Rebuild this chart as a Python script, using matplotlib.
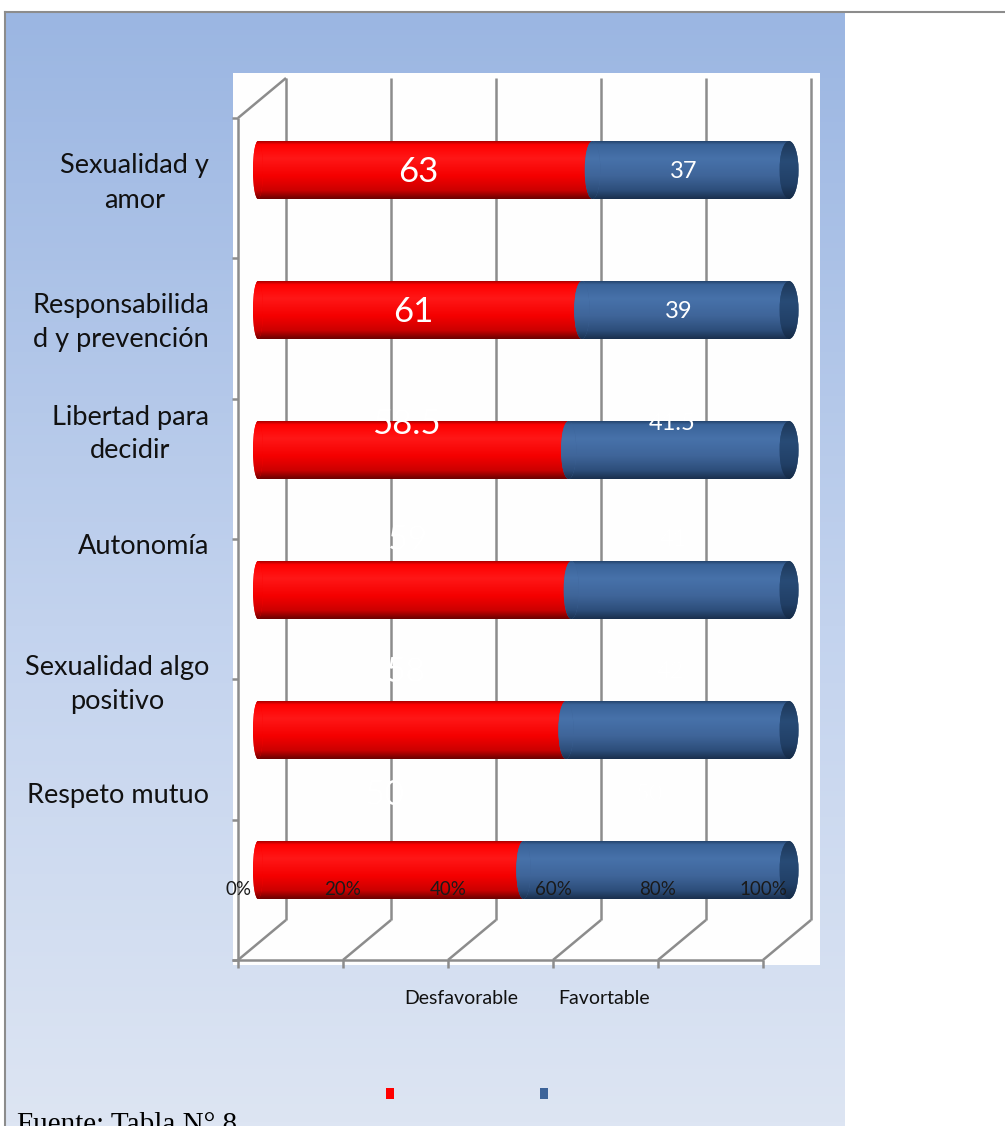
import numpy as np
import matplotlib.pyplot as plt
from matplotlib.colors import LinearSegmentedColormap
from matplotlib.patches import Ellipse, Rectangle

# datos
categorias = ['Sexualidad y\namor', 'Responsabilida\nd y prevención', 'Libertad para\ndecidir',
              'Autonomía', 'Sexualidad algo\npositivo', 'Respeto mutuo']
desfavorable = [63, 61, 58.5, 59, 58, 50]
favorable = [37, 39, 41.5, 41, 42, 50]
ticks = [0, 20, 40, 60, 80, 100]
series = ['Desfavorable', 'Favortable']

# posiciones (pixeles de la imagen)
label_y_px = [183, 323, 434, 546, 684, 796]
desplaz_px = [2, 2, -26, -50, -58, -75]

W, H = 1005, 1126
fig = plt.figure(figsize=(W / 100, H / 100), dpi=100)
plt.rcParams['font.family'] = ['Lato', 'DejaVu Sans']


def caja(x0, y0, x1, y1):
    return [x0 / W, 1 - y1 / H, (x1 - x0) / W, (y1 - y0) / H]


def cmap(nombre, pares):
    return LinearSegmentedColormap.from_list(nombre, pares)


grad = np.linspace(0, 1, 256).reshape(-1, 1)

# fondo con degradado
bg = fig.add_axes([0, 0, 1, 1], zorder=0)
fondo = cmap('fondo', [(0, '#9bb6e2'), (0.55, '#c3d3ee'), (1, '#dde5f3')])
bg.imshow(grad, cmap=fondo, extent=[6, 845, H, 13], aspect='auto')
bg.plot([5, W], [12, 12], color='#8c8c8c', lw=1.5)
bg.plot([5, 5], [12, H], color='#8c8c8c', lw=1.5)
bg.add_patch(Rectangle((233, 73), 587, 892, facecolor='#fefefe', edgecolor='none'))
bg.set_xlim(0, W)
bg.set_ylim(H, 0)
bg.axis('off')

# marco 3D (plano frontal + pared del fondo)
fr = fig.add_axes(caja(238, 118, 763, 960), zorder=1)
fr.set_xlim(0, 100)
fr.set_ylim(6, 0)
fr.axis('off')
gris = '#8c8c8c'
dx = 48 * 100 / 525
dy = 40 * 6 / 842
kw = dict(color=gris, lw=1.8, clip_on=False, solid_capstyle='butt')
for t in ticks:
    fr.plot([t + dx, t + dx], [-dy, 6 - dy], **kw)
    fr.plot([t, t + dx], [6, 6 - dy], **kw)
    fr.plot([t, t], [6, 6 + 8 * 6 / 842], **kw)
fr.plot([0, dx], [0, -dy], **kw)
fr.plot([0, 0], [0, 6], **kw)
fr.plot([-6 * 100 / 525, 100], [6, 6], **kw)
for k in range(len(categorias) + 1):
    fr.plot([-6 * 100 / 525, 0], [k, k], **kw)

# barras cilindricas
ax = fig.add_axes(caja(233, 73, 820, 965), zorder=2)
esc = 5.31
xlim = (-25 / esc, 562 / esc)
ylim = (795 / 140, -97 / 140)
h = 58 / 140

rojo = cmap('rojo', [(0, '#a80000'), (0.06, '#ff0000'), (0.3, '#ff1717'), (0.6, '#f50000'),
                     (0.85, '#cc0000'), (1, '#6a0000')])
azul = cmap('azul', [(0, '#24446c'), (0.06, '#3a6399'), (0.3, '#4772aa'), (0.6, '#3f6599'),
                     (0.85, '#2d4e7b'), (1, '#1a2f4d')])
tapa = cmap('tapa', [(0, '#1d3859'), (0.35, '#284b76'), (0.75, '#213f66'), (1, '#162a45')])


def hw(v):
    return (5 + 4.5 * v / 100) / esc


def degradado(patch, cm, x0, x1, yc, z):
    img = ax.imshow(grad, cmap=cm, extent=[x0, x1, yc + h / 2, yc - h / 2],
                    aspect='auto', interpolation='bilinear', zorder=z)
    img.set_clip_path(patch)


corr = -7 / esc  # etiquetas un poco a la izquierda, como en Excel
for i, (d, f) in enumerate(zip(desfavorable, favorable)):
    r = ax.barh(i, d, left=0, height=h, color='#ff0000', zorder=3)[0]
    degradado(r, rojo, 0, d, i, 3)
    e = Ellipse((0, i), 2 * hw(0), h, facecolor='#ff0000', edgecolor='none', zorder=3)
    ax.add_patch(e)
    degradado(e, rojo, -hw(0), hw(0), i, 3)

    b = ax.barh(i, f, left=d, height=h, color='#3f6599', zorder=4)[0]
    degradado(b, azul, d, d + f, i, 4)
    e = Ellipse((d, i), 2 * hw(d), h, facecolor='#3f6599', edgecolor='none', zorder=4)
    ax.add_patch(e)
    degradado(e, azul, d - hw(d), d + hw(d), i, 4)

    e = Ellipse((d + f, i), 2 * hw(d + f), h, facecolor='#24456e', edgecolor='none', zorder=5)
    ax.add_patch(e)
    degradado(e, tapa, d + f - hw(d + f), d + f + hw(d + f), i, 5)

    yl = i + desplaz_px[i] / 140
    ax.text(d / 2 + corr, yl, f'{d:g}', color='white', fontsize=25, ha='center', va='center', zorder=10)
    ax.text(d + f / 2 + corr, yl, f'{f:g}', color='white', fontsize=17, ha='center', va='center', zorder=10)

ax.set_xlim(*xlim)
ax.set_ylim(*ylim)
ax.axis('off')

# etiquetas del eje x (dibujadas sobre la ultima barra)
for t in ticks:
    ax.text(t, (890 - 118) * 6 / 842, f'{t}%', transform=fr.transData, fontsize=13.5,
            color='#1a1a1a', ha='center', va='center', zorder=11)

# etiquetas de categorias
for lab, y in zip(categorias, label_y_px):
    bg.text(209, y, lab, ha='right', va='center', multialignment='center',
            fontsize=19.5, linespacing=1.45, color='#111111')

# leyenda
bg.text(461, 998, series[0], ha='center', va='center', fontsize=14, color='#111111')
bg.text(604, 998, series[1], ha='center', va='center', fontsize=14, color='#111111')
bg.add_patch(Rectangle((386, 1088), 8, 11, facecolor='#ff0000', edgecolor='none'))
bg.add_patch(Rectangle((540, 1088), 8, 11, facecolor='#3c6399', edgecolor='none'))

bg.text(17, 1132, 'Fuente: Tabla N° 8', family=['Liberation Serif', 'DejaVu Serif'],
        fontsize=21, va='baseline', ha='left', color='black')

fig.savefig('out.png', dpi=100)
